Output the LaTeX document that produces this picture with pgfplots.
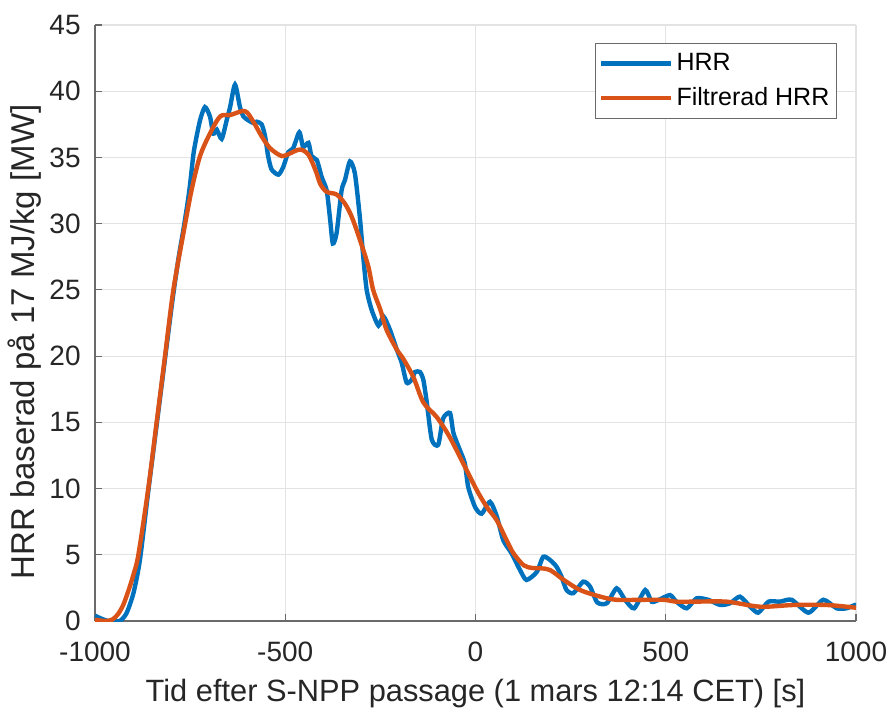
\documentclass[border=0pt]{standalone}
\usepackage{pgfplots}
\pgfplotsset{compat=1.18}
\usepackage{fontspec}
\setmainfont{Liberation Sans}
\definecolor{mblue}{rgb}{0,0.447,0.741}
\definecolor{morange}{rgb}{0.85,0.325,0.098}
\definecolor{axgray}{HTML}{6A6A6A}
\definecolor{gridgray}{HTML}{E3E3E3}
\begin{document}
\begin{tikzpicture}
\path[use as bounding box] (-47.5pt,-43.5pt) rectangle (397pt,310.5pt);
\begin{axis}[
  scale only axis,
  width=380.5pt, height=298pt,
  xmin=-1000, xmax=1000, ymin=0, ymax=45,
  axis lines=left,
  axis line style={-, draw=axgray, line width=0.6pt},
  tick align=inside,
  major tick length=3.5pt,
  tick style={draw=axgray, line width=0.6pt},
  xtick={-1000,-500,0,500,1000},
  xticklabels={-1000,-500,0,500,1000},
  ytick={0,5,10,15,20,25,30,35,40,45},
  /pgf/number format/assume math mode=true,
  grid=major,
  grid style={draw=gridgray, line width=0.6pt},
  font=\fontsize{14}{16}\selectfont,
  ticklabel style={font=\fontsize{14}{16}\selectfont, color=black!85},
  yticklabel style={inner sep=0pt, anchor=east, xshift=-7pt},
  xticklabel style={inner sep=0pt, anchor=north, yshift=-10.5pt},
  xlabel={Tid efter S-NPP passage (1 mars 12:14 CET) [s]},
  ylabel={HRR baserad på 17 MJ/kg [MW]},
  xlabel style={at={(axis description cs:0.5,0)}, anchor=base, yshift=-40pt, inner sep=0pt,
    color=black!85, font=\fontsize{15.4}{18}\selectfont},
  ylabel style={at={(axis description cs:-0.092,0.468)}, anchor=center, inner sep=0pt,
    color=black!85, font=\fontsize{16.5}{19}\selectfont},
  legend style={at={(0.975,0.970)}, anchor=north east, draw=axgray, line width=0.6pt,
    font=\fontsize{12.5}{14}\selectfont, inner xsep=2pt, inner ysep=3.5pt,
    row sep=4pt, nodes={inner sep=1.5pt}},
  legend cell align=left,
  legend image code/.code={\draw[#1] (0pt,0pt) -- (35pt,0pt);},
]
\addplot[mblue, line width=2.2pt, smooth, tension=0.4] coordinates {
(-1000,0.4) (-985,0.2) (-965,0.0) (-935,0.0) (-917,0.6) (-899,2.1) (-882,4.6)
(-860,9.8) (-838,14.8) (-816,19.8) (-796,24.3) (-781,27.3) (-768,29.5) (-757,31.5)
(-750,33.0) (-740,35.5) (-724,37.8) (-711,38.8) (-698,38.1) (-689,36.8) (-680,37.1)
(-667,36.4) (-654,37.8) (-645,38.8) (-632,40.5) (-619,38.8) (-610,38.1) (-597,37.8)
(-584,37.6) (-575,37.7) (-562,37.5) (-553,36.6) (-545,35.1) (-536,34.1) (-518,33.7)
(-505,34.3) (-492,35.4) (-479,35.7) (-463,36.9) (-453,35.8) (-439,36.1) (-431,35.1)
(-417,34.8) (-404,33.5) (-391,32.5) (-382,30.3) (-375,28.5) (-365,29.3) (-352,32.5)
(-343,33.3) (-330,34.7) (-317,33.8) (-304,30.5) (-295,27.5) (-286,25.0) (-273,23.5)
(-255,22.3) (-242,23.0) (-225,22.0) (-207,20.5) (-194,19.5) (-181,18.0) (-168,18.2)
(-159,18.8) (-146,18.8) (-137,18.2) (-128,16.5) (-115,13.7) (-98,13.3) (-85,15.3)
(-67,15.7) (-58,14.2) (-41,12.9) (-28,11.9) (-19,10.1) (-1,8.6) (16,8.1) (38,9.0)
(56,7.9) (73,6.1) (95,5.1) (117,3.85) (134,3.1) (161,3.7) (178,4.85) (196,4.6)
(213,4.1) (226,3.35) (239,2.35) (257,2.1) (283,2.97) (301,2.6) (320,1.4) (345,1.34)
(371,2.47) (393,1.6) (417,0.96) (446,2.34) (463,1.46) (482,1.6) (511,1.96) (528,1.46)
(555,0.96) (581,1.71) (612,1.6) (643,1.21) (669,1.34) (695,1.84) (722,1.08) (743,0.63)
(770,1.46) (800,1.46) (831,1.6) (875,0.63) (914,1.6) (949,0.96) (975,0.96) (997,1.21)
(1000,1.2)
};
\addlegendentry{HRR}
\addplot[morange, line width=2.2pt, smooth, tension=0.5] coordinates {
(-1000,0.1) (-975,0.0) (-955,0.1) (-940,0.5) (-926,1.2) (-912,2.3) (-899,3.5)
(-886,5.0) (-860,10.0) (-838,15.0) (-816,20.0) (-794,25.0) (-763,30.0) (-745,32.7)
(-724,35.1) (-698,36.8) (-671,38.1) (-645,38.2) (-606,38.5) (-584,37.7) (-562,36.6)
(-540,35.7) (-509,35.1) (-488,35.3) (-461,35.6) (-439,35.2) (-420,34.0) (-408,33.0)
(-391,32.4) (-365,32.2) (-343,31.5) (-325,30.5) (-304,28.8) (-282,26.8) (-269,25.0)
(-250,23.5) (-234,22.0) (-207,20.5) (-190,19.8) (-163,18.4) (-137,16.5) (-102,15.4)
(-70,14.0) (-41,12.4) (3,9.9) (30,8.6) (56,7.6) (80,6.2) (100,5.1) (127,4.2)
(150,4.0) (171,3.98) (196,3.85) (232,3.1) (275,2.34) (328,1.84) (371,1.6) (441,1.6)
(494,1.6) (528,1.46) (572,1.46) (660,1.46) (748,1.08) (836,1.21) (923,1.21) (1000,1.0)
};
\addlegendentry{Filtrerad HRR}
\end{axis}
\end{tikzpicture}
\end{document}
